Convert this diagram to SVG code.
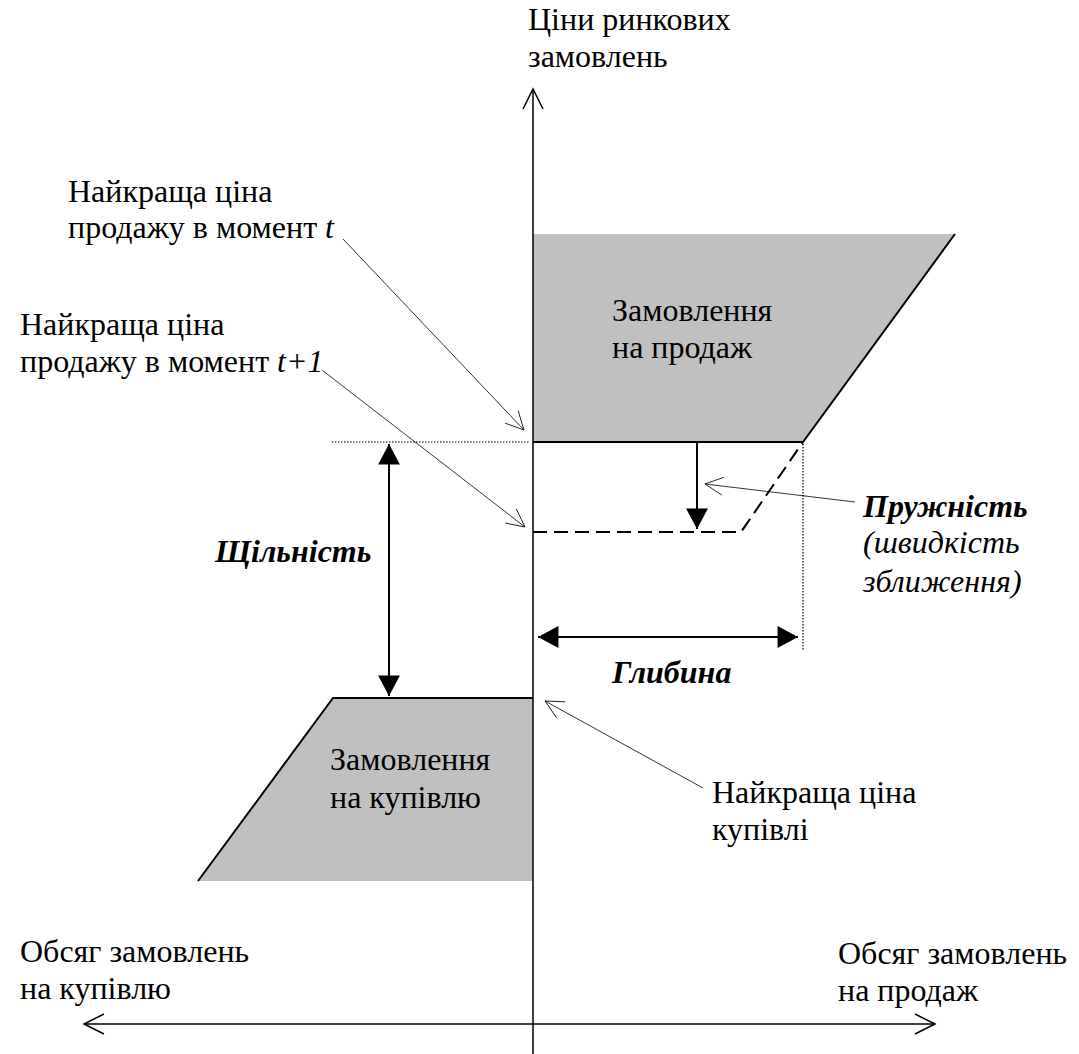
<svg xmlns="http://www.w3.org/2000/svg" width="1079" height="1054" viewBox="0 0 1079 1054">
<style>
text{font-family:"Liberation Serif","Times New Roman","DejaVu Serif",serif;font-size:32px;fill:#000}
.bi{font-weight:bold;font-style:italic}
.it{font-style:italic}
.area{fill:#c0c0c0;stroke:none}
.edge{fill:none;stroke:#000;stroke-width:2}
.axis{fill:none;stroke:#000;stroke-width:1.5}
.thin{fill:none;stroke:#000;stroke-width:0.8}
.dim{fill:none;stroke:#000;stroke-width:2}
.dot{fill:none;stroke:#000;stroke-width:1.2;stroke-dasharray:1.5 1.5}
.dash{fill:none;stroke:#000;stroke-width:2;stroke-dasharray:14 7}
</style>
<defs>
<marker id="open" markerUnits="userSpaceOnUse" markerWidth="30" markerHeight="30" viewBox="-25 -15 30 30" refX="0" refY="0" orient="auto-start-reverse" overflow="visible">
<path d="M-20,-10 L0,0 L-20,10" fill="none" stroke="#000" stroke-width="1.5"/>
</marker>
<marker id="thinhead" markerUnits="userSpaceOnUse" markerWidth="30" markerHeight="30" viewBox="-25 -15 30 30" refX="0" refY="0" orient="auto" overflow="visible">
<path d="M-18,-9 L0,0 L-18,9" fill="none" stroke="#000" stroke-width="0.8"/>
</marker>
<marker id="solid" markerUnits="userSpaceOnUse" markerWidth="30" markerHeight="30" viewBox="-20 -10 22 20" refX="0" refY="0" orient="auto-start-reverse" overflow="visible">
<path d="M0,0 L-15,-8 L-15,8 Z" fill="#000" stroke="none"/>
</marker>
</defs>

<g id="sell-orders">
<polygon class="area" points="533,234 955,234 803,442 533,442"/>
<path class="edge" d="M533,442 L803,442 L955,234"/>
<text x="612" y="321">Замовлення</text>
<text x="612" y="358">на продаж</text>
</g>

<g id="buy-orders">
<polygon class="area" points="333,698 533,698 533,881 198,881"/>
<path class="edge" d="M533,698 L333,698 L198,881"/>
<text x="330" y="770">Замовлення</text>
<text x="330" y="808">на купівлю</text>
</g>

<g id="sell-shifted">
<path class="dash" d="M533,532 L741,532 L803,442"/>
</g>

<g id="guides">
<path class="dot" d="M332,442 L530,442"/>
<path class="dot" d="M803,444 L803,650"/>
</g>

<g id="axes">
<path class="axis" d="M533,1054 L533,89" marker-end="url(#open)"/>
<path class="axis" d="M84,1024 L935,1024" marker-start="url(#open)" marker-end="url(#open)"/>
</g>

<g id="connectors">
<path class="thin" d="M343,239 L524,430" marker-end="url(#thinhead)"/>
<path class="thin" d="M322,370 L525,527" marker-end="url(#thinhead)"/>
<path class="thin" d="M855,502 L705,484" marker-end="url(#thinhead)"/>
<path class="thin" d="M703,788 L545,701" marker-end="url(#thinhead)"/>
<path class="dim" d="M697,443 L697,529" marker-end="url(#solid)"/>
<path class="dim" d="M389,444 L389,696" marker-start="url(#solid)" marker-end="url(#solid)"/>
<path class="dim" d="M538,637 L798,637" marker-start="url(#solid)" marker-end="url(#solid)"/>
</g>

<g id="label-price-axis">
<text x="528" y="30">Ціни ринкових</text>
<text x="528" y="67">замовлень</text>
</g>

<g id="label-best-ask-t">
<text x="68" y="202">Найкраща ціна</text>
<text x="68" y="238">продажу в момент <tspan class="it">t</tspan></text>
</g>

<g id="label-best-ask-t1">
<text x="20" y="335">Найкраща ціна</text>
<text x="20" y="372">продажу в момент <tspan class="it">t+1</tspan></text>
</g>

<g id="label-density">
<text class="bi" x="215" y="562">Щільність</text>
</g>

<g id="label-resilience">
<text class="bi" x="863" y="517">Пружність</text>
<text class="it" x="863" y="553">(швидкість</text>
<text class="it" x="863" y="592">зближення)</text>
</g>

<g id="label-depth">
<text class="bi" x="612" y="683">Глибина</text>
</g>

<g id="label-best-bid">
<text x="712" y="803">Найкраща ціна</text>
<text x="712" y="840">купівлі</text>
</g>

<g id="label-buy-volume">
<text x="20" y="962">Обсяг замовлень</text>
<text x="20" y="999">на купівлю</text>
</g>

<g id="label-sell-volume">
<text x="838" y="964">Обсяг замовлень</text>
<text x="838" y="1001">на продаж</text>
</g>
</svg>
